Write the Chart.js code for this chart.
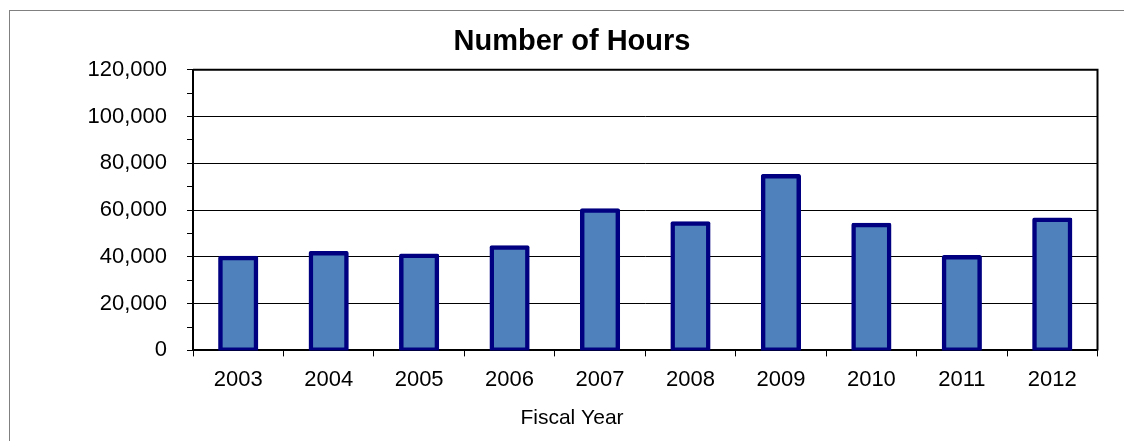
<!DOCTYPE html>
<html>
<head>
<meta charset="utf-8">
<script src="https://cdn.jsdelivr.net/npm/chart.js@4.4.1/dist/chart.umd.min.js"></script>
<style>
  html, body { margin: 0; padding: 0; background: #fff; overflow: hidden; }
  .frame {
    position: absolute; left: 9px; top: 10px;
    width: 1124px; height: 440px;
    border: 1px solid #808080;
  }
  canvas { display: block; }
</style>
</head>
<body>
<div class="frame">
  <canvas id="hoursChart" width="1124" height="430"></canvas>
</div>
<script>
// data
const years = ['2003', '2004', '2005', '2006', '2007', '2008', '2009', '2010', '2011', '2012'];
const hours = [39600, 41700, 40600, 44100, 59900, 54400, 74600, 53700, 39900, 56000];
const yMax = 120000;
const yStep = 10000;   // minor ticks
const yLabelStep = 20000;

const FONT = '"Liberation Sans", Arial, sans-serif';

// black frame on top and right of the plot area
const plotFrame = {
  id: 'plotFrame',
  afterDatasetsDraw(chart) {
    const { ctx, chartArea: a } = chart;
    ctx.save();
    ctx.strokeStyle = '#000';
    ctx.lineWidth = 2;
    ctx.beginPath();
    ctx.moveTo(a.left, a.top);
    ctx.lineTo(a.right, a.top);
    ctx.lineTo(a.right, a.bottom);
    ctx.stroke();
    ctx.restore();
  }
};

const ctx = document.getElementById('hoursChart').getContext('2d');
new Chart(ctx, {
  type: 'bar',
  data: {
    labels: years,
    datasets: [{
      label: 'Number of Hours',
      data: hours,
      backgroundColor: '#4F81BD',
      borderColor: '#000080',
      borderWidth: 4.5,
      borderSkipped: false,
      borderRadius: 2,
      inflateAmount: 2,
      categoryPercentage: 1,
      barPercentage: 0.4,
    }],
  },
  options: {
    responsive: false,
    animation: false,
    devicePixelRatio: 1,
    // equal side padding keeps title and axis title centred on the frame
    layout: { padding: { left: 36.5, right: 36.5, top: 0, bottom: 0 } },
    plugins: {
      legend: { display: false },
      tooltip: { enabled: false },
      title: {
        display: true,
        text: 'Number of Hours',
        color: '#000',
        font: { family: FONT, size: 29, weight: 'bold' },
        padding: { top: 14, bottom: 10 },
      },
      subtitle: {
        display: true,
        position: 'bottom',
        text: 'Fiscal Year',
        color: '#000',
        font: { family: FONT, size: 21, weight: 'normal' },
        padding: { top: 3, bottom: 10 },
      },
    },
    scales: {
      x: {
        grid: {
          offset: true,
          drawOnChartArea: false,
          tickLength: 6,
          tickColor: '#000',
          color: '#000',
        },
        border: { color: '#000', width: 2 },
        ticks: {
          color: '#000',
          font: { family: FONT, size: 22 },
          padding: 10,
          maxRotation: 0,
        },
      },
      y: {
        min: 0,
        max: yMax,
        afterFit: (s) => { s.width = 146.5; },
        grid: {
          color: (c) => (c.tick && c.tick.value % yLabelStep === 0) ? '#000' : 'rgba(0,0,0,0)',
          tickColor: '#000',
          tickLength: 6,
          lineWidth: 1,
        },
        border: { color: '#000', width: 2 },
        ticks: {
          stepSize: yStep,
          autoSkip: false,
          color: '#000',
          font: { family: FONT, size: 22 },
          padding: 20,
          callback: (v) => (v % yLabelStep === 0 ? v.toLocaleString('en-US') : ''),
        },
      },
    },
  },
  plugins: [plotFrame],
});
</script>
</body>
</html>
